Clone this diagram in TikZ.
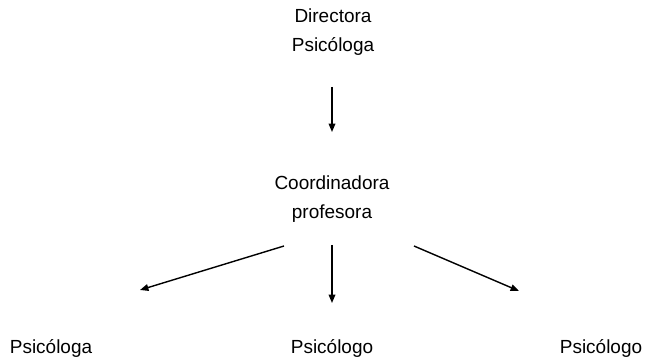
\documentclass[tikz,border=0pt]{standalone}
\usepackage{fontspec}
\setmainfont{Liberation Sans}
\usetikzlibrary{arrows.meta}

\begin{document}
\begin{tikzpicture}[x=0.02cm, y=-0.02cm,
   rolebox/.style={align=center, inner sep=0pt, font=\fontsize{10.8}{16.5}\selectfont},
   arrow/.style={-{Triangle[length=4.8pt, width=3.8pt]}, line width=0.8pt}
]
\useasboundingbox (0,0) rectangle (645,364);
% Nodes
\node [rolebox] (dir) at (333,32) {Directora\\Psicóloga};
\node [rolebox] (coord) at (332,199) {Coordinadora\\profesora};
\node [rolebox] (psi1) at (51,348) {Psicóloga};
\node [rolebox] (psi2) at (332,348) {Psicólogo};
\node [rolebox] (psi3) at (601,348) {Psicólogo};

% Arrow ends
\coordinate (dirout) at (332,87);
\coordinate (coordin) at (332,132);
\coordinate (outl) at (284,246);
\coordinate (outc) at (332,245);
\coordinate (outr) at (414,246);
\coordinate (inl) at (140,290);
\coordinate (inc) at (332,303);
\coordinate (inr) at (519,291);

% Connections
\draw [arrow] (dirout) -- (coordin);
\draw [arrow] (outl) -- (inl);
\draw [arrow] (outc) -- (inc);
\draw [arrow] (outr) -- (inr);

\end{tikzpicture}
\end{document}
